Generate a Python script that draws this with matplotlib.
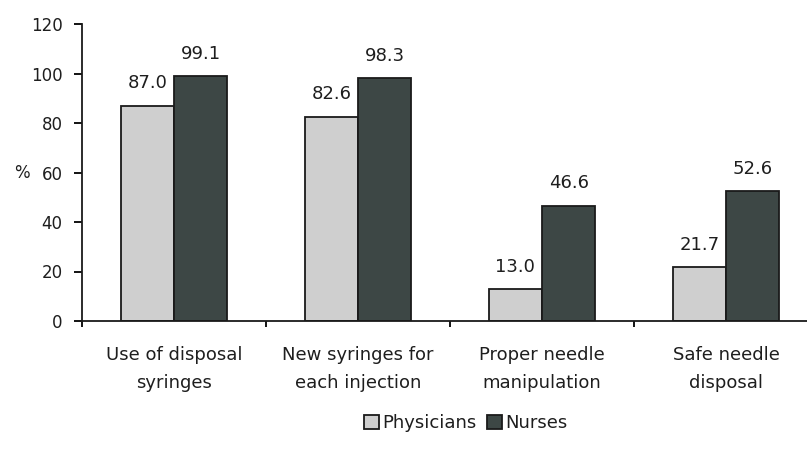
import matplotlib.pyplot as plt
import numpy as np
from matplotlib import rcParams

rcParams['font.family'] = ['DejaVu Sans']
rcParams['font.size'] = 12

categories = ['Use of disposal\nsyringes', 'New syringes for\neach injection',
              'Proper needle\nmanipulation', 'Safe needle\ndisposal']
physicians = [87.0, 82.6, 13.0, 21.7]
nurses = [99.1, 98.3, 46.6, 52.6]

light = '#cfcfcf'
dark = '#3d4745'
txt = '#1e1e1e'

fig = plt.figure(figsize=(8.07, 4.61), dpi=100)
ax = fig.add_axes([82 / 807, 1 - 321 / 461, 1 - 82 / 807, 297 / 461])

x = np.arange(len(categories))
w = 0.29
b1 = ax.bar(x - w / 2, physicians, w, color=light, edgecolor='#1a1a1a', linewidth=1.3,
            label='Physicians')
b2 = ax.bar(x + w / 2, nurses, w, color=dark, edgecolor='#1a1a1a', linewidth=1.3,
            label='Nurses')

for bars, vals in ((b1, physicians), (b2, nurses)):
    for r, v in zip(bars, vals):
        ax.annotate(f'{v:.1f}', (r.get_x() + r.get_width() / 2, v),
                    xytext=(0, 9.5), textcoords='offset points',
                    ha='center', va='bottom', fontsize=13, color=txt)

ax.set_ylim(0, 120)
ax.set_yticks(range(0, 121, 20))
ax.set_xticks(np.arange(-0.5, 3.6, 1.0))
ax.set_xticklabels([])
ax.set_xticks(x, minor=True)
ax.set_xticklabels(categories, minor=True, fontsize=13, linespacing=1.75, color=txt)
ax.set_xlim(-0.5, 3.44)
ax.tick_params(axis='x', which='minor', length=0, pad=18)
ax.tick_params(axis='x', which='major', length=4.5, width=1.3, direction='out')
ax.tick_params(axis='y', length=6, width=1.3, direction='out', labelsize=12, pad=8,
               labelcolor=txt)

for s in ('top', 'right'):
    ax.spines[s].set_visible(False)
for s in ('left', 'bottom'):
    ax.spines[s].set_linewidth(1.3)
    ax.spines[s].set_color('#1a1a1a')

ax.text(-0.083, 0.5, '%', transform=ax.transAxes, ha='center', va='center',
        fontsize=12, color=txt)

fig.legend(handles=[b1, b2], loc='center', bbox_to_anchor=(466 / 807, 1 - 423 / 461),
           ncol=2, frameon=False, fontsize=13, handlelength=0.8, handleheight=0.8,
           handletextpad=0.2, columnspacing=0.6, labelcolor=txt)

fig.savefig('out.png', dpi=100)
